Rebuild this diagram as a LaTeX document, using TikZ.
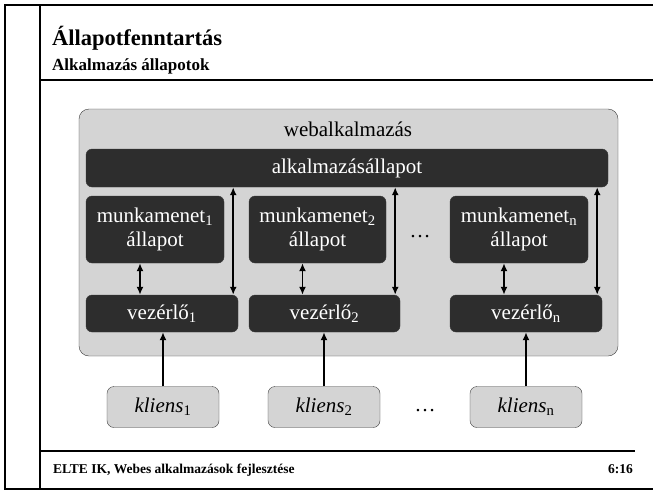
\documentclass[tikz,border=0pt]{standalone}
\usepackage{fontspec}
\setmainfont{Liberation Serif}
\usepackage{xcolor}
\usepackage{tikz}
\usetikzlibrary{arrows.meta}
\definecolor{boxgray}{HTML}{D4D4D4}
\definecolor{boxdark}{HTML}{2D2D2D}
\definecolor{rimgray}{HTML}{3A3A3A}

\tikzset{
  darkbox/.style={draw=rimgray, fill=boxdark, rounded corners=6pt, text=white,
    font=\fontsize{21}{24}\selectfont, align=center, inner sep=0pt},
  lightbox/.style={draw=rimgray, fill=boxgray, rounded corners=7pt,
    font=\fontsize{21}{24}\selectfont\itshape, inner sep=0pt,
    minimum width=112pt, minimum height=41pt},
  link/.style={-{Latex[length=8pt,width=7pt]}, line width=1.6pt},
  dlink/.style={{Latex[length=8pt,width=7pt]}-{Latex[length=8pt,width=7pt]}, line width=1.6pt},
}

\begin{document}
\begin{tikzpicture}[x=1pt,y=-1pt]
  \useasboundingbox (0,0) rectangle (653,490);
  % Folienrahmen
  \draw[line width=2pt] (4,4.5) -- (653,4.5);
  \draw[line width=2pt] (5,4) -- (5,489);
  \draw[line width=2pt] (4,488.5) -- (653,488.5);
  \draw[line width=1.2pt] (40,4) -- (40,489);
  \draw[line width=1.5pt] (40,80) -- (653,80);
  \draw[line width=1.5pt] (40,451) -- (635,451);
  % Titel und Fusszeile
  \node[anchor=base west, inner sep=0pt, font=\fontsize{22.5}{24}\selectfont\bfseries] (title) at (52,45) {Állapotfenntartás};
  \node[anchor=base west, inner sep=0pt, font=\fontsize{17}{18}\selectfont\bfseries] (subtitle) at (52,70.5) {Alkalmazás állapotok};
  \node[anchor=base west, inner sep=0pt, font=\fontsize{13.5}{14}\selectfont\bfseries] (footer) at (53,473) {ELTE IK, Webes alkalmazások fejlesztése};
  \node[anchor=base east, inner sep=0pt, font=\fontsize{13.5}{14}\selectfont\bfseries] (pagenum) at (633,473) {6:16};
  % Webalkalmazas
  \node[draw=rimgray, fill=boxgray, rounded corners=10pt, minimum width=539pt, minimum height=247pt, inner sep=0pt] (webapp) at (348.5,232.5) {};
  \node[anchor=base, inner sep=0pt, font=\fontsize{21}{24}\selectfont] (weblabel) at (348,136.5) {webalkalmazás};
  \node[darkbox, minimum width=522pt, minimum height=38pt] (appstate) at (347,168) {alkalmazásállapot};
  % Munkamenetek
  \node[darkbox, minimum width=138pt, minimum height=67pt] (sess1) at (155,229.5) {munkamenet\textsubscript{1}\\állapot};
  \node[darkbox, minimum width=137pt, minimum height=67pt] (sess2) at (317.5,229.5) {munkamenet\textsubscript{2}\\állapot};
  \node[darkbox, minimum width=138pt, minimum height=67pt] (sessn) at (519,229.5) {munkamenet\textsubscript{n}\\állapot};
  \node[anchor=base, inner sep=0pt, font=\fontsize{21}{24}\selectfont] (sessdots) at (420,237) {\dots};
  % Vezerlok
  \node[darkbox, minimum width=152pt, minimum height=37pt] (ctrl1) at (162,313.5) {vezérlő\textsubscript{1}};
  \node[darkbox, minimum width=151pt, minimum height=37pt] (ctrl2) at (324.5,313.5) {vezérlő\textsubscript{2}};
  \node[darkbox, minimum width=152pt, minimum height=37pt] (ctrln) at (526,313.5) {vezérlő\textsubscript{n}};
  % Kliensek
  \node[lightbox] (cli1) at (163,407) {kliens\textsubscript{\upshape 1}};
  \node[lightbox] (cli2) at (324,407) {kliens\textsubscript{\upshape 2}};
  \node[lightbox] (clin) at (526,407) {kliens\textsubscript{\upshape n}};
  \node[anchor=base, inner sep=0pt, font=\fontsize{21}{24}\selectfont] (clidots) at (425,411) {\dots};
  % Verbindungen
  \foreach \i in {1,2,n} {
    \draw[dlink] ([xshift=-15pt]sess\i.south) -- ([xshift=-15pt]sess\i.south |- ctrl\i.north);
    \draw[dlink] ([xshift=-5pt]ctrl\i.north east) -- ([xshift=-5pt]ctrl\i.north east |- appstate.south);
    \draw[link] (cli\i.north) -- (cli\i.north |- ctrl\i.south);
  }
\end{tikzpicture}
\end{document}
